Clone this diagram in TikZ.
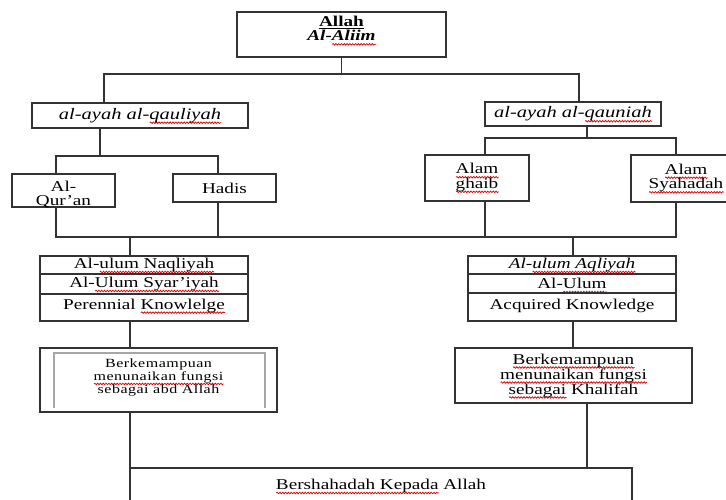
\documentclass[tikz,border=0pt]{standalone}
\usepackage{fontspec}
\setmainfont[FakeStretch=1.28]{Liberation Serif}
\usetikzlibrary{decorations.pathmorphing}
\newsavebox\sqbox
\newdimen\sqw
\newcommand\sq[1]{\sbox\sqbox{#1}\sqw=\wd\sqbox\leavevmode\rlap{\smash{\tikz[baseline=0pt,x=1pt,y=1pt]{\draw[red!90!black, line width=0.75pt, decorate, decoration={snake, amplitude=0.75pt, segment length=2.8pt}] (0,-3.4) -- (\sqw,-3.4);}}}\usebox\sqbox}
% multi-line text block shifted vertically without changing its size
\newcommand\up[2]{\raisebox{#1}[\height][\depth]{\begin{tabular}{@{}c@{}}#2\end{tabular}}}
\newcommand\fsz{\fontsize{15}{14}\selectfont}
\definecolor{lc}{HTML}{333333}
\tikzset{
  ln/.style={draw=lc, line width=1.2pt},
  box/.style={draw=lc, line width=1.2pt, inner sep=1pt, align=center, font=\fsz, text=black},
}
\begin{document}
\begin{tikzpicture}[x=1pt, y=-1pt]
\clip (0,0) rectangle (726,499);
\fill[white] (0,0) rectangle (726,499);

% boxes
\node[box, minimum width=209pt, minimum height=45pt] (allah) at (341.5,34.5)
  {\up{4pt}{\textbf{\underline{Allah}}\\ \textbf{\textit{Al-\sq{Aliim}}}}};
\node[box, minimum width=216pt, minimum height=25pt, font=\fontsize{16}{16}\selectfont\itshape] (qauliyah) at (140,115.5)
  {al-ayah al-\sq{qauliyah}};
\node[box, minimum width=176pt, minimum height=24pt, font=\fontsize{16}{16}\selectfont\itshape] (qauniah) at (573,114)
  {al-ayah al-\sq{qauniah}};
\node[box, minimum width=103pt, minimum height=33pt] (quran) at (63.5,190.5)
  {\up{-5pt}{Al-\\Qur’an}};
\node[box, minimum width=103pt, minimum height=28pt] (hadis) at (224.5,188) {Hadis};
\node[box, minimum width=104pt, minimum height=46pt] (ghaib) at (477,178)
  {\up{0pt}{\sq{Alam}\\\sq{ghaib}}};
\node[box, minimum width=110pt, minimum height=47pt] (syahadah) at (686,178.5)
  {\up{0pt}{\sq{Alam}\\\sq{Syahadah}}};

\node[box, minimum width=208pt, minimum height=18pt] (naqli1) at (144,265) {Al-\sq{ulum Naqliyah}};
\node[box, minimum width=208pt, minimum height=20pt] (naqli2) at (144,284) {Al-\sq{Ulum Syar’iyah}};
\node[box, minimum width=208pt, minimum height=27pt, text depth=7pt] (naqli3) at (144,307.5) {Perennial \sq{Knowlelge}};

\node[box, minimum width=208pt, minimum height=18pt, font=\fsz\itshape] (aqli1) at (572,265) {Al-\sq{ulum Aqliyah}};
\node[box, minimum width=208pt, minimum height=19pt] (aqli2) at (572,283.5) {Al-\sq{Ulum}};
\node[box, minimum width=208pt, minimum height=28pt, text depth=6pt] (aqli3) at (572,307) {Acquired Knowledge};

\node[box, minimum width=237pt, minimum height=64pt, font=\fontsize{12.5}{12.5}\selectfont\addfontfeature{LetterSpace=4}] (abd) at (158.5,380)
  {\up{2pt}{Berkemampuan\\\sq{menunaikan fungsi}\\sebagai abd Allah}};
\draw[gray!70, line width=2pt] (54,408) -- (54,353) -- (265,353) -- (265,408);

\node[box, minimum width=237pt, minimum height=55pt, font=\fontsize{15}{15}\selectfont] (khalifah) at (573.5,375.5)
  {\sq{Berkemampuan}\\\sq{menunaikan fungsi}\\\sq{sebagai} Khalifah};

\node[box, minimum width=502pt, minimum height=36pt] (bottom) at (381,486) {\sq{Bershahadah Kepada} Allah};

% junction coordinates
\coordinate (c1) at (104,74);
\coordinate (c2) at (579,74);
\coordinate (c3) at (100,156);
\coordinate (c4) at (56,156);
\coordinate (c5) at (218,156);
\coordinate (c6) at (587,138);
\coordinate (c7) at (485,138);
\coordinate (c8) at (676,138);
\coordinate (d1) at (56,237);
\coordinate (d2) at (218,237);
\coordinate (d3) at (485,237);
\coordinate (d4) at (676,237);
\coordinate (d5) at (130,237);
\coordinate (d6) at (573,237);
\coordinate (e1) at (130,440);
\coordinate (e2) at (587,440);

% connectors
\draw[ln] (allah.south) -- (allah.south |- c1);
\draw[ln] (qauliyah.north -| c1) -- (c1) -- (c2) -- (qauniah.north -| c2);
\draw[ln] (qauliyah.south -| c3) -- (c3);
\draw[ln] (quran.north -| c4) -- (c4) -- (c5) -- (hadis.north -| c5);
\draw[ln] (qauniah.south -| c6) -- (c6);
\draw[ln] (ghaib.north -| c7) -- (c7) -- (c8) -- (syahadah.north -| c8);
\draw[ln] (quran.south -| d1) -- (d1) -- (d4) -- (syahadah.south -| d4);
\draw[ln] (hadis.south -| d2) -- (d2);
\draw[ln] (ghaib.south -| d3) -- (d3);
\draw[ln] (d5) -- (naqli1.north -| d5);
\draw[ln] (d6) -- (aqli1.north -| d6);
\draw[ln] (naqli3.south -| d5) -- (abd.north -| d5);
\draw[ln] (aqli3.south -| d6) -- (khalifah.north -| d6);
\draw[ln] (abd.south -| e1) -- (bottom.north -| e1);
\draw[ln] (khalifah.south -| e2) -- (bottom.north -| e2);
\end{tikzpicture}
\end{document}
